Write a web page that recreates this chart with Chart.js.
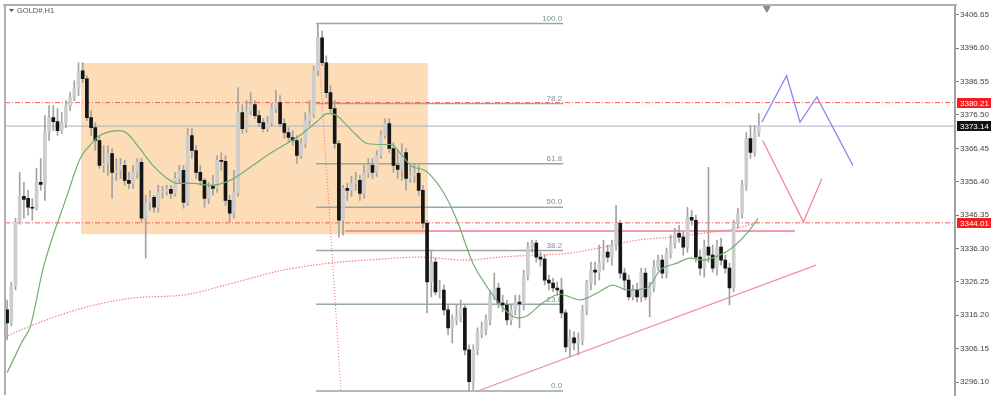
<!DOCTYPE html>
<html><head><meta charset="utf-8">
<script src="https://cdn.jsdelivr.net/npm/chart.js@4.4.1/dist/chart.umd.min.js"></script>
<style>html,body{margin:0;padding:0;background:#fff;}canvas{display:block;}</style>
</head><body>
<canvas id="c" width="1000" height="407"></canvas>
<script>
const symbolTitle = 'GOLD#,H1';
const opens = [
3317.8,3313.9,3325.0,3344.2,3352.0,3351.4,3348.7,3348.4,3356.2,3355.6,
3371.2,3375.7,3374.5,3371.8,3374.2,3379.3,3381.7,3384.4,3389.8,3387.4,
3375.7,3372.7,3368.8,3361.3,3361.9,3364.9,3359.2,3359.8,3361.3,3356.8,
3355.9,3359.2,3362.2,3345.4,3350.2,3351.7,3348.7,3353.2,3353.5,3354.1,
3352.9,3357.4,3359.8,3350.2,3370.3,3365.8,3359.2,3356.8,3351.4,3355.0,
3354.4,3362.8,3362.5,3350.8,3346.9,3353.2,3377.2,3372.4,3377.8,3379.6,
3376.3,3374.2,3372.4,3374.2,3378.4,3380.2,3373.9,3371.2,3369.7,3368.8,
3364.3,3367.9,3374.8,3376.9,3389.8,3399.7,3392.2,3383.2,3378.4,3367.9,
3344.8,3354.4,3353.8,3355.9,3356.8,3352.9,3358.9,3361.3,3359.2,3364.3,
3370.3,3373.9,3366.4,3361.3,3360.1,3365.2,3357.4,3358.3,3358.9,3353.8,
3343.9,3326.2,3332.2,3323.2,3323.8,3317.8,3312.4,3314.8,3315.7,3318.4,
3305.8,3296.2,3305.8,3310.9,3311.8,3314.8,3321.7,3324.4,3319.9,3319.3,
3314.8,3317.8,3320.2,3319.6,3328.3,3336.7,3337.9,3333.7,3333.1,3326.8,
3325.9,3324.4,3323.8,3316.9,3306.7,3309.4,3307.9,3308.8,3317.8,3325.9,
3329.8,3329.2,3331.9,3335.2,3333.7,3337.3,3343.9,3328.9,3326.8,3321.7,
3323.8,3321.7,3328.9,3321.7,3324.7,3330.7,3332.8,3328.9,3334.9,3337.9,
3340.9,3339.7,3336.7,3345.7,3344.8,3333.7,3330.4,3336.7,3334.3,3330.4,
3336.7,3332.8,3330.4,3324.4,3343.9,3346.9,3355.3,3369.4,3365.2,3371.2];
const highs = [
3320.8,3326.2,3345.4,3359.2,3356.2,3353.8,3351.4,3360.4,3363.4,3376.3,
3379.3,3379.3,3378.4,3377.2,3380.8,3383.2,3386.8,3392.2,3392.2,3388.3,
3377.8,3374.2,3370.3,3367.3,3367.3,3366.4,3363.4,3363.4,3362.8,3359.2,
3361.3,3363.4,3363.4,3352.3,3353.8,3352.3,3355.3,3355.0,3355.3,3355.3,
3359.2,3361.3,3361.3,3372.4,3372.4,3367.3,3361.3,3357.4,3356.2,3358.3,
3364.3,3365.2,3364.3,3352.3,3359.8,3384.7,3379.6,3380.8,3383.2,3380.8,
3377.8,3375.4,3376.0,3379.9,3383.8,3382.3,3375.4,3372.7,3371.8,3370.3,
3369.4,3377.2,3380.8,3391.3,3404.0,3401.8,3394.3,3385.3,3380.8,3368.8,
3355.3,3355.9,3358.0,3359.2,3358.3,3361.3,3363.4,3363.4,3365.8,3371.8,
3375.4,3375.4,3368.2,3365.8,3367.9,3366.4,3361.3,3361.9,3361.3,3355.3,
3344.8,3335.8,3333.4,3326.8,3325.3,3319.3,3316.3,3319.3,3320.8,3319.3,
3307.3,3307.3,3312.4,3314.2,3316.3,3323.8,3328.9,3325.9,3322.3,3320.8,
3319.3,3322.3,3322.3,3329.8,3338.2,3338.8,3338.8,3335.2,3334.3,3328.3,
3327.4,3326.2,3327.4,3317.8,3311.8,3311.2,3310.9,3319.3,3326.8,3332.2,
3332.2,3337.3,3338.8,3337.3,3338.8,3349.3,3344.8,3330.4,3328.3,3325.3,
3325.9,3330.4,3330.4,3326.2,3332.8,3334.3,3334.3,3336.4,3340.3,3342.4,
3343.3,3341.2,3348.7,3347.8,3346.3,3335.8,3338.8,3360.7,3337.3,3338.8,
3339.4,3334.3,3331.9,3344.8,3348.4,3356.8,3371.2,3373.3,3373.3,3376.9];
const lows = [
3308.8,3313.0,3323.8,3343.6,3345.4,3346.3,3344.8,3347.8,3353.8,3350.8,
3368.8,3371.8,3370.3,3370.9,3372.7,3377.8,3380.8,3382.3,3386.2,3374.8,
3370.3,3365.8,3360.4,3359.2,3358.3,3351.4,3356.8,3357.4,3355.3,3354.4,
3354.4,3357.4,3344.2,3333.4,3347.8,3347.2,3347.2,3351.4,3352.3,3351.4,
3352.0,3356.2,3348.4,3349.3,3363.4,3357.4,3355.3,3348.7,3349.9,3352.3,
3353.2,3359.8,3349.3,3344.2,3345.4,3352.0,3370.9,3371.2,3376.6,3375.4,
3373.0,3371.5,3371.5,3373.3,3377.2,3373.0,3369.4,3368.2,3367.3,3361.9,
3363.4,3366.7,3373.6,3375.7,3388.3,3391.3,3381.7,3377.2,3366.4,3339.7,
3340.3,3350.8,3352.0,3353.8,3350.8,3351.4,3357.7,3357.4,3358.0,3363.4,
3369.4,3365.2,3359.2,3357.4,3356.8,3353.8,3356.2,3356.2,3352.3,3342.4,
3316.9,3321.7,3322.3,3321.4,3316.3,3310.3,3307.9,3313.3,3314.2,3304.3,
3293.4,3293.8,3304.3,3309.4,3310.3,3313.3,3320.8,3318.4,3317.2,3313.3,
3313.3,3316.3,3312.4,3317.8,3326.8,3335.2,3332.2,3331.0,3325.3,3323.8,
3323.2,3322.0,3315.4,3305.2,3303.7,3305.8,3304.3,3307.3,3316.3,3323.8,
3325.3,3326.8,3329.8,3332.2,3331.3,3335.8,3327.4,3323.8,3320.8,3320.8,
3320.2,3320.2,3320.8,3315.7,3323.2,3329.8,3327.4,3327.4,3333.4,3336.4,
3338.2,3334.3,3335.2,3343.3,3332.2,3328.3,3327.7,3332.2,3329.2,3328.3,
3331.3,3328.9,3319.3,3323.2,3342.4,3345.4,3353.8,3363.4,3364.0,3370.0];
const closes = [
3313.9,3325.0,3344.2,3352.0,3351.1,3348.7,3348.4,3356.2,3355.6,3371.2,
3375.7,3374.5,3371.8,3374.2,3379.3,3381.7,3384.4,3389.8,3387.4,3375.7,
3372.7,3368.8,3361.3,3361.9,3364.9,3359.2,3359.8,3361.3,3356.8,3355.9,
3359.2,3362.2,3345.4,3350.2,3351.7,3348.7,3353.2,3353.5,3354.1,3352.9,
3357.4,3359.8,3350.2,3370.3,3365.8,3359.2,3356.8,3351.4,3354.4,3354.4,
3362.8,3362.5,3350.8,3346.9,3353.2,3377.2,3372.4,3377.8,3379.6,3376.3,
3374.2,3372.4,3374.2,3378.4,3380.2,3373.9,3371.2,3369.7,3368.8,3364.3,
3367.9,3374.8,3376.9,3389.8,3399.7,3392.2,3383.2,3378.4,3367.9,3344.8,
3354.4,3353.8,3355.9,3356.8,3352.9,3358.9,3361.3,3359.2,3364.3,3370.3,
3373.9,3366.4,3361.3,3360.1,3365.2,3357.4,3358.3,3358.9,3353.8,3343.9,
3326.2,3332.2,3323.2,3323.8,3317.8,3312.4,3314.8,3315.7,3318.4,3305.8,
3296.2,3305.8,3310.9,3311.8,3314.8,3321.7,3324.4,3319.9,3319.3,3314.8,
3317.8,3320.2,3319.6,3328.3,3336.7,3337.9,3333.7,3333.1,3326.8,3325.9,
3324.4,3323.8,3316.9,3306.7,3309.4,3307.9,3308.8,3317.8,3325.9,3329.8,
3329.2,3331.9,3335.2,3333.7,3337.3,3343.9,3328.9,3326.8,3321.7,3323.8,
3321.7,3328.9,3321.7,3324.7,3330.7,3332.8,3328.9,3334.9,3337.9,3340.9,
3339.7,3336.7,3345.7,3344.8,3333.7,3330.4,3336.7,3334.3,3330.4,3336.7,
3332.8,3330.4,3324.4,3343.9,3346.9,3355.3,3369.4,3365.2,3371.2,3373.14];

const tickValues = [3406.65,3396.60,3386.55,3376.50,3366.45,3356.40,3346.35,3336.30,3326.25,3316.20,3306.15,3296.10];
const fibLabels = ['100.0','78.2','61.8','50.0','38.2','23.6','0.0'];
const fibValues = [3404.0,3379.9,3361.8,3348.7,3335.7,3319.5,3293.4];
const fibSpan = [73.6, 132.4];
const redDashLevels = [3380.21, 3344.01];
const currentPrice = 3373.14;
const supportLevel = 3341.6;
const supportSpan = [80.5, 187.6];
const trendX = [112.1, 192.6];
const trendY = [3293.4, 3331.3];
const fibDiagX = [73.8, 79.5];
const fibDiagY = [3404.0, 3293.4];
const boxX = [17.6, 100.2];
const boxY = [3340.6, 3392.1];
const maFastX = [0,3.8,5.5,8.6,14.3,17.4,19.7,22.1,26.9,28.6,31.6,34.7,38.1,40.5,44.3,48.3,53.1,57.8,62.6,66.6,69.7,73.8,76.2,78.1,80.5,83.3,85.7,90.0,91.6,94.0,96.4,99.5,101.9,104.3,107.1,110.9,114.3,118.1,121.4,123.8,126.9,131.6,134.0,136.4,140.5,144.3,147.6,152.4,155.5,159.5,162.6,165.7,169.7,172.8,176.2,178.8];
const maFastY = [3298.9,3308.8,3312.7,3330.4,3352.3,3363.4,3367.3,3370.3,3371.8,3370.9,3366.4,3361.3,3357.4,3355.9,3355.9,3355.3,3356.8,3360.7,3364.9,3367.9,3370.3,3374.5,3376.9,3376.6,3373.9,3370.3,3367.9,3367.6,3367.6,3364.3,3361.0,3359.8,3356.8,3352.3,3344.8,3331.9,3324.7,3318.4,3315.4,3316.0,3319.3,3322.6,3321.7,3320.8,3322.9,3325.3,3323.8,3324.4,3329.8,3331.9,3333.4,3332.8,3334.3,3336.7,3340.9,3345.4];
const maSlowX = [-0.5,6.2,18.1,30.0,41.9,53.8,65.7,76.9,88.8,98.3,109.5,117.4,125.2,134.0,141.9,150.0,157.8,165.7,173.8,178.8];
const maSlowY = [3309.7,3313.3,3318.4,3321.4,3322.3,3325.9,3329.8,3331.9,3333.1,3333.7,3332.8,3333.7,3334.3,3334.9,3336.7,3338.8,3339.7,3340.9,3342.4,3344.2];
const projUpX = [179.7,185.6,188.8,192.8,201.4];
const projUpY = [3374.3,3388.3,3374.3,3381.9,3361.3];
const projDownX = [179.9,189.6,194.0];
const projDownY = [3368.8,3344.3,3357.3];
const markerX = [180.9];
const markerY = [3408.6];

const X_MIN = -0.5, X_MAX = 225.7;
const pts = (xs, ys) => xs.map((x, i) => ({x: x, y: ys[i]}));
const hline = (v, span) => [{x: span[0], y: v}, {x: span[1], y: v}];

const bull = closes.map((c, i) => c >= opens[i]);
const wickData = lows.map((l, i) => ({x: i, y: [l, highs[i]]}));
const bodyData = opens.map((o, i) => ({x: i, y: [o, closes[i]]}));

const datasets = [];
datasets.push({type:'line', data: hline(boxY[1], boxX), borderWidth:0, pointRadius:0, fill:'+1', backgroundColor:'rgb(252,221,183)', order:20});
datasets.push({type:'line', data: hline(boxY[0], boxX), borderWidth:0, pointRadius:0, fill:false, order:20});
datasets.push({type:'line', data: pts(maSlowX, maSlowY), borderColor:'#f08282', borderWidth:1.2, borderDash:[1.5,1.5], pointRadius:0, cubicInterpolationMode:'monotone', order:15});
redDashLevels.forEach(v => datasets.push({type:'line', data: hline(v, [X_MIN, X_MAX]), borderColor:'#f25c5c', borderWidth:1, borderDash:[5,2,1,2], pointRadius:0, order:14}));
datasets.push({type:'line', data: hline(currentPrice, [X_MIN, X_MAX]), borderColor:'#a9b3c2', borderWidth:1, pointRadius:0, order:14});
fibValues.forEach(v => datasets.push({type:'line', data: hline(v, fibSpan), borderColor:'#96a7a8', borderWidth:1.4, pointRadius:0, order:13}));
datasets.push({type:'line', data: pts(fibDiagX, fibDiagY), borderColor:'#f06d6d', borderWidth:1, borderDash:[1,2], pointRadius:0, order:12});
datasets.push({type:'line', data: hline(supportLevel, supportSpan), borderColor:'#ef7d8b', borderWidth:1.5, pointRadius:0, order:12});
datasets.push({type:'line', data: pts(trendX, trendY), borderColor:'#f0909d', borderWidth:1.3, pointRadius:0, order:12});
datasets.push({type:'bar', data: wickData, backgroundColor:'#a2a2a2', barThickness:1, grouped:false, order:6});
datasets.push({type:'bar', data: bodyData, backgroundColor: bull.map(b => b ? '#cdcdcd' : '#151515'), borderColor: bull.map(b => b ? '#b4b4b4' : '#151515'), borderWidth: 0, barThickness:3, minBarLength:1, grouped:false, order:5});
datasets.push({type:'line', data: pts(maFastX, maFastY), borderColor:'#72ae72', borderWidth:1.2, pointRadius:0, cubicInterpolationMode:'monotone', order:3});
datasets.push({type:'line', data: pts(projUpX, projUpY), borderColor:'#8585ee', borderWidth:1.3, pointRadius:0, order:2});
datasets.push({type:'line', data: pts(projDownX, projDownY), borderColor:'#f0899a', borderWidth:1.3, pointRadius:0, order:2});
datasets.push({type:'line', data: pts(markerX, markerY), showLine:false, pointStyle:'triangle', pointRotation:180, pointRadius:4, pointBackgroundColor:'#7c8c9c', pointBorderColor:'#7c8c9c', order:1, clip:false});

const overlay = {
  id: 'overlay',
  beforeDatasetsDraw(chart) {
    const ctx = chart.ctx, xs = chart.scales.x, ys = chart.scales.y;
    ctx.save();
    ctx.font = '8px "Liberation Sans", Arial, sans-serif';
    ctx.fillStyle = '#7f9092';
    ctx.textAlign = 'right';
    ctx.textBaseline = 'bottom';
    fibValues.forEach((v, i) => {
      ctx.fillText(fibLabels[i], xs.getPixelForValue(fibSpan[1]) - 1, ys.getPixelForValue(v) - 1);
    });
    ctx.restore();
  },
  afterDraw(chart) {
    const ctx = chart.ctx, ca = chart.chartArea, ys = chart.scales.y;
    ctx.save();
    ctx.fillStyle = '#b0b0b0';
    ctx.fillRect(3, 4, ca.right - 1, 2);
    ctx.fillRect(4, 4, 2, ca.bottom - 4);
    ctx.fillStyle = '#555';
    ctx.beginPath();
    ctx.moveTo(9, 9); ctx.lineTo(14, 9); ctx.lineTo(11.5, 12); ctx.closePath(); ctx.fill();
    ctx.font = '7.5px "Liberation Sans", Arial, sans-serif';
    ctx.textAlign = 'left'; ctx.textBaseline = 'middle';
    ctx.fillText(symbolTitle, 17, 11);
    ctx.font = '8px "Liberation Sans", Arial, sans-serif';
    const boxes = [[redDashLevels[0], '#f21d1d'], [currentPrice, '#111111'], [redDashLevels[1], '#f21d1d']];
    boxes.forEach(([v, col]) => {
      const y = ys.getPixelForValue(v);
      ctx.fillStyle = col;
      ctx.fillRect(ca.right + 2, Math.round(y) - 5, 34, 10);
      ctx.fillStyle = '#fff';
      ctx.fillText(v.toFixed(2), ca.right + 5, Math.round(y) + 0.5);
    });
    ctx.restore();
  }
};

new Chart(document.getElementById('c'), {
  type: 'bar',
  data: { datasets },
  options: {
    responsive: false, animation: false, devicePixelRatio: 1,
    layout: { padding: { left: 5, top: 5, right: 0, bottom: 12 } },
    plugins: { legend: { display: false }, tooltip: { enabled: false } },
    scales: {
      x: { type: 'linear', min: X_MIN, max: X_MAX, display: false, offset: false },
      y: {
        type: 'linear', position: 'right', min: 3292.2, max: 3409.35,
        afterFit: s => { s.width = 45; },
        afterBuildTicks: s => { s.ticks = tickValues.map(v => ({ value: v })); },
        ticks: { callback: v => Number(v).toFixed(2), font: { family: '"Liberation Sans", Arial, sans-serif', size: 8 }, color: '#444', padding: 1 },
        grid: { drawOnChartArea: false, drawTicks: true, tickLength: 4, color: '#777' },
        border: { display: true, color: '#a0a0a0', width: 2 }
      }
    }
  },
  plugins: [overlay]
});
</script>
</body></html>
